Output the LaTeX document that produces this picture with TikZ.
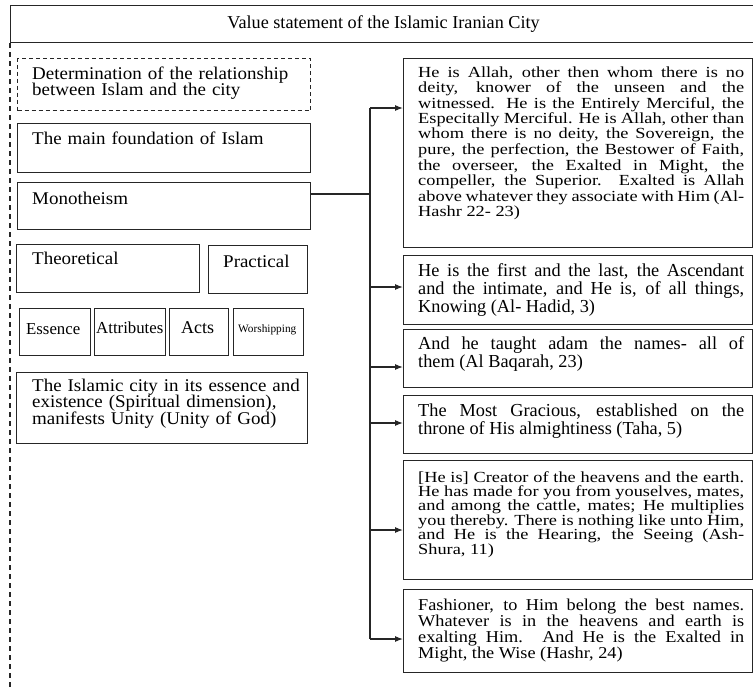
\documentclass[tikz,border=0pt]{standalone}
\usepackage{fontspec}
\setmainfont{Liberation Serif}
\newfontfamily\widefont[FakeStretch=1.19]{Liberation Serif}
\newfontfamily\semiwidefont[FakeStretch=1.1]{Liberation Serif}
\newfontfamily\slightwidefont[FakeStretch=1.06]{Liberation Serif}
\usetikzlibrary{arrows.meta}
\hyphenpenalty=10000
\exhyphenpenalty=10000
\lineskiplimit=-100pt
\normallineskiplimit=-100pt
\newcommand\myleftfont{\slightwidefont\fontsize{17.9}{16.8}\selectfont}
\newcommand\myrightfont{\fontsize{18.3}{18}\selectfont}
\newcommand\rfontA{\widefont\fontsize{15.4}{15.5}\selectfont}
\newcommand\rfontE{\widefont\fontsize{15.4}{14.4}\selectfont}
\newcommand\rfontF{\semiwidefont\fontsize{16.6}{16}\selectfont}
\begin{document}
\begin{tikzpicture}[x=1pt,y=-1pt,
  box/.style={draw=black!85, line width=1.1pt, rectangle, inner sep=0pt, anchor=north west},
  dbox/.style={box, dash pattern=on 4pt off 3pt},
  ltext/.style={anchor=base west, inner sep=0pt, align=left, text width=285pt, font=\myleftfont},
  rtext/.style={anchor=base west, inner sep=0pt, align=justify, text width=326pt, font=\myrightfont},
  conn/.style={line width=1.1pt, draw=black!85},
  arr/.style={conn, -{Latex[length=8pt,width=6pt]}}]
\useasboundingbox (0,0) rectangle (753,688);

% title
\node[box, minimum width=746pt, minimum height=37pt, font=\fontsize{18.2}{20}\selectfont] (title) at (10,5) {Value statement of the Islamic Iranian City};
\coordinate (dend) at (10,690);
\draw[conn, dash pattern=on 5pt off 4pt] (title.south west) -- (dend);

% left boxes
\node[dbox, minimum width=293pt, minimum height=52pt] (det) at (17,58) {};
\node[box, minimum width=293pt, minimum height=49pt] (found) at (17,123) {};
\node[box, minimum width=293pt, minimum height=47pt] (mono) at (17,182) {};
\node[box, minimum width=183pt, minimum height=48pt] (theo) at (16,244) {};
\node[box, minimum width=99pt, minimum height=48pt] (prac) at (208,245) {};
\node[box, minimum width=71pt, minimum height=47pt] (ess) at (19,308) {};
\node[box, minimum width=71pt, minimum height=47pt] (attr) at (94,308) {};
\node[box, minimum width=59pt, minimum height=47pt] (acts) at (169,308) {};
\node[box, minimum width=70pt, minimum height=47pt] (wor) at (233,308) {};
\node[box, minimum width=291pt, minimum height=71pt] (city) at (16,372) {};

\node[ltext] (dett) at (32,79) {Determination of the relationship\\between Islam and the city};
\node[ltext] (foundt) at (32,144) {The main foundation of Islam};
\node[ltext] (monot) at (32,204) {Monotheism};
\node[ltext] (theot) at (32,264) {Theoretical};
\node[ltext, text width=80pt] (pract) at (223,267) {Practical};
\node[ltext, text width=70pt, font=\fontsize{16.8}{16}\selectfont] (esst) at (26,334) {Essence};
\node[ltext, text width=70pt, font=\fontsize{16.8}{16}\selectfont] (attrt) at (96,333) {Attributes};
\node[ltext, text width=50pt, font=\fontsize{18}{16}\selectfont] (actst) at (181,333) {Acts};
\node[ltext, text width=65pt, font=\fontsize{11.3}{13}\selectfont] (wort) at (238,332) {Worshipping};
\node[ltext] (cityt) at (32,391) {The Islamic city in its essence and\\existence (Spiritual dimension),\\manifests Unity (Unity of God)};

% right boxes
\node[box, minimum width=349pt, minimum height=189pt] (r1) at (403,58) {};
\node[box, minimum width=349pt, minimum height=69pt] (r2) at (403,255) {};
\node[box, minimum width=349pt, minimum height=58pt] (r3) at (403,329) {};
\node[box, minimum width=349pt, minimum height=58pt] (r4) at (403,395) {};
\node[box, minimum width=349pt, minimum height=119pt] (r5) at (403,460) {};
\node[box, minimum width=349pt, minimum height=83pt] (r6) at (403,589) {};

\node[rtext, font=\rfontA] (r1t) at (418,77) {He is Allah, other then whom there is no\linebreak deity, knower of the unseen and the\linebreak witnessed. He is the Entirely Merciful, the\linebreak Especitally Merciful. He is Allah, other than\linebreak whom there is no deity, the Sovereign, the\linebreak pure, the perfection, the Bestower of Faith,\linebreak the overseer, the Exalted in Might, the\linebreak compeller, the Superior. Exalted is Allah\linebreak above whatever they associate with Him (Al-\linebreak Hashr 22- 23)};
\node[rtext] (r2t) at (418,276) {He is the first and the last, the Ascendant\linebreak and the intimate, and He is, of all things,\linebreak Knowing (Al- Hadid, 3)};
\node[rtext] (r3t) at (418,349) {And he taught adam the names- all of\linebreak them (Al Baqarah, 23)};
\node[rtext] (r4t) at (418,416) {The Most Gracious, established on the\linebreak throne of His almightiness (Taha, 5)};
\node[rtext, font=\rfontE] (r5t) at (418,482) {[He is] Creator of the heavens and the earth.\linebreak He has made for you from youselves, mates,\linebreak and among the cattle, mates; He multiplies\linebreak you thereby. There is nothing like unto Him,\linebreak and He is the Hearing, the Seeing (Ash-\linebreak Shura, 11)};
\node[rtext, font=\rfontF] (r6t) at (418,610) {Fashioner, to Him belong the best names.\linebreak Whatever is in the heavens and earth is\linebreak exalting Him. And He is the Exalted in\linebreak Might, the Wise (Hashr, 24)};

% connectors
\coordinate (a1) at (370,108);
\coordinate (a2) at (370,287);
\coordinate (a3) at (370,367);
\coordinate (a4) at (370,423);
\coordinate (a5) at (370,530);
\coordinate (a6) at (370,639);
\coordinate (m) at ([yshift=-12pt]mono.north east);
\draw[conn] (m) -- (m -| a1);
\draw[conn] (a1) -- (a6);
\draw[arr] (a1) -- (a1 -| r1.west);
\draw[arr] (a2) -- (a2 -| r2.west);
\draw[arr] (a3) -- (a3 -| r3.west);
\draw[arr] (a4) -- (a4 -| r4.west);
\draw[arr] (a5) -- (a5 -| r5.west);
\draw[arr] (a6) -- (a6 -| r6.west);
\end{tikzpicture}
\end{document}
